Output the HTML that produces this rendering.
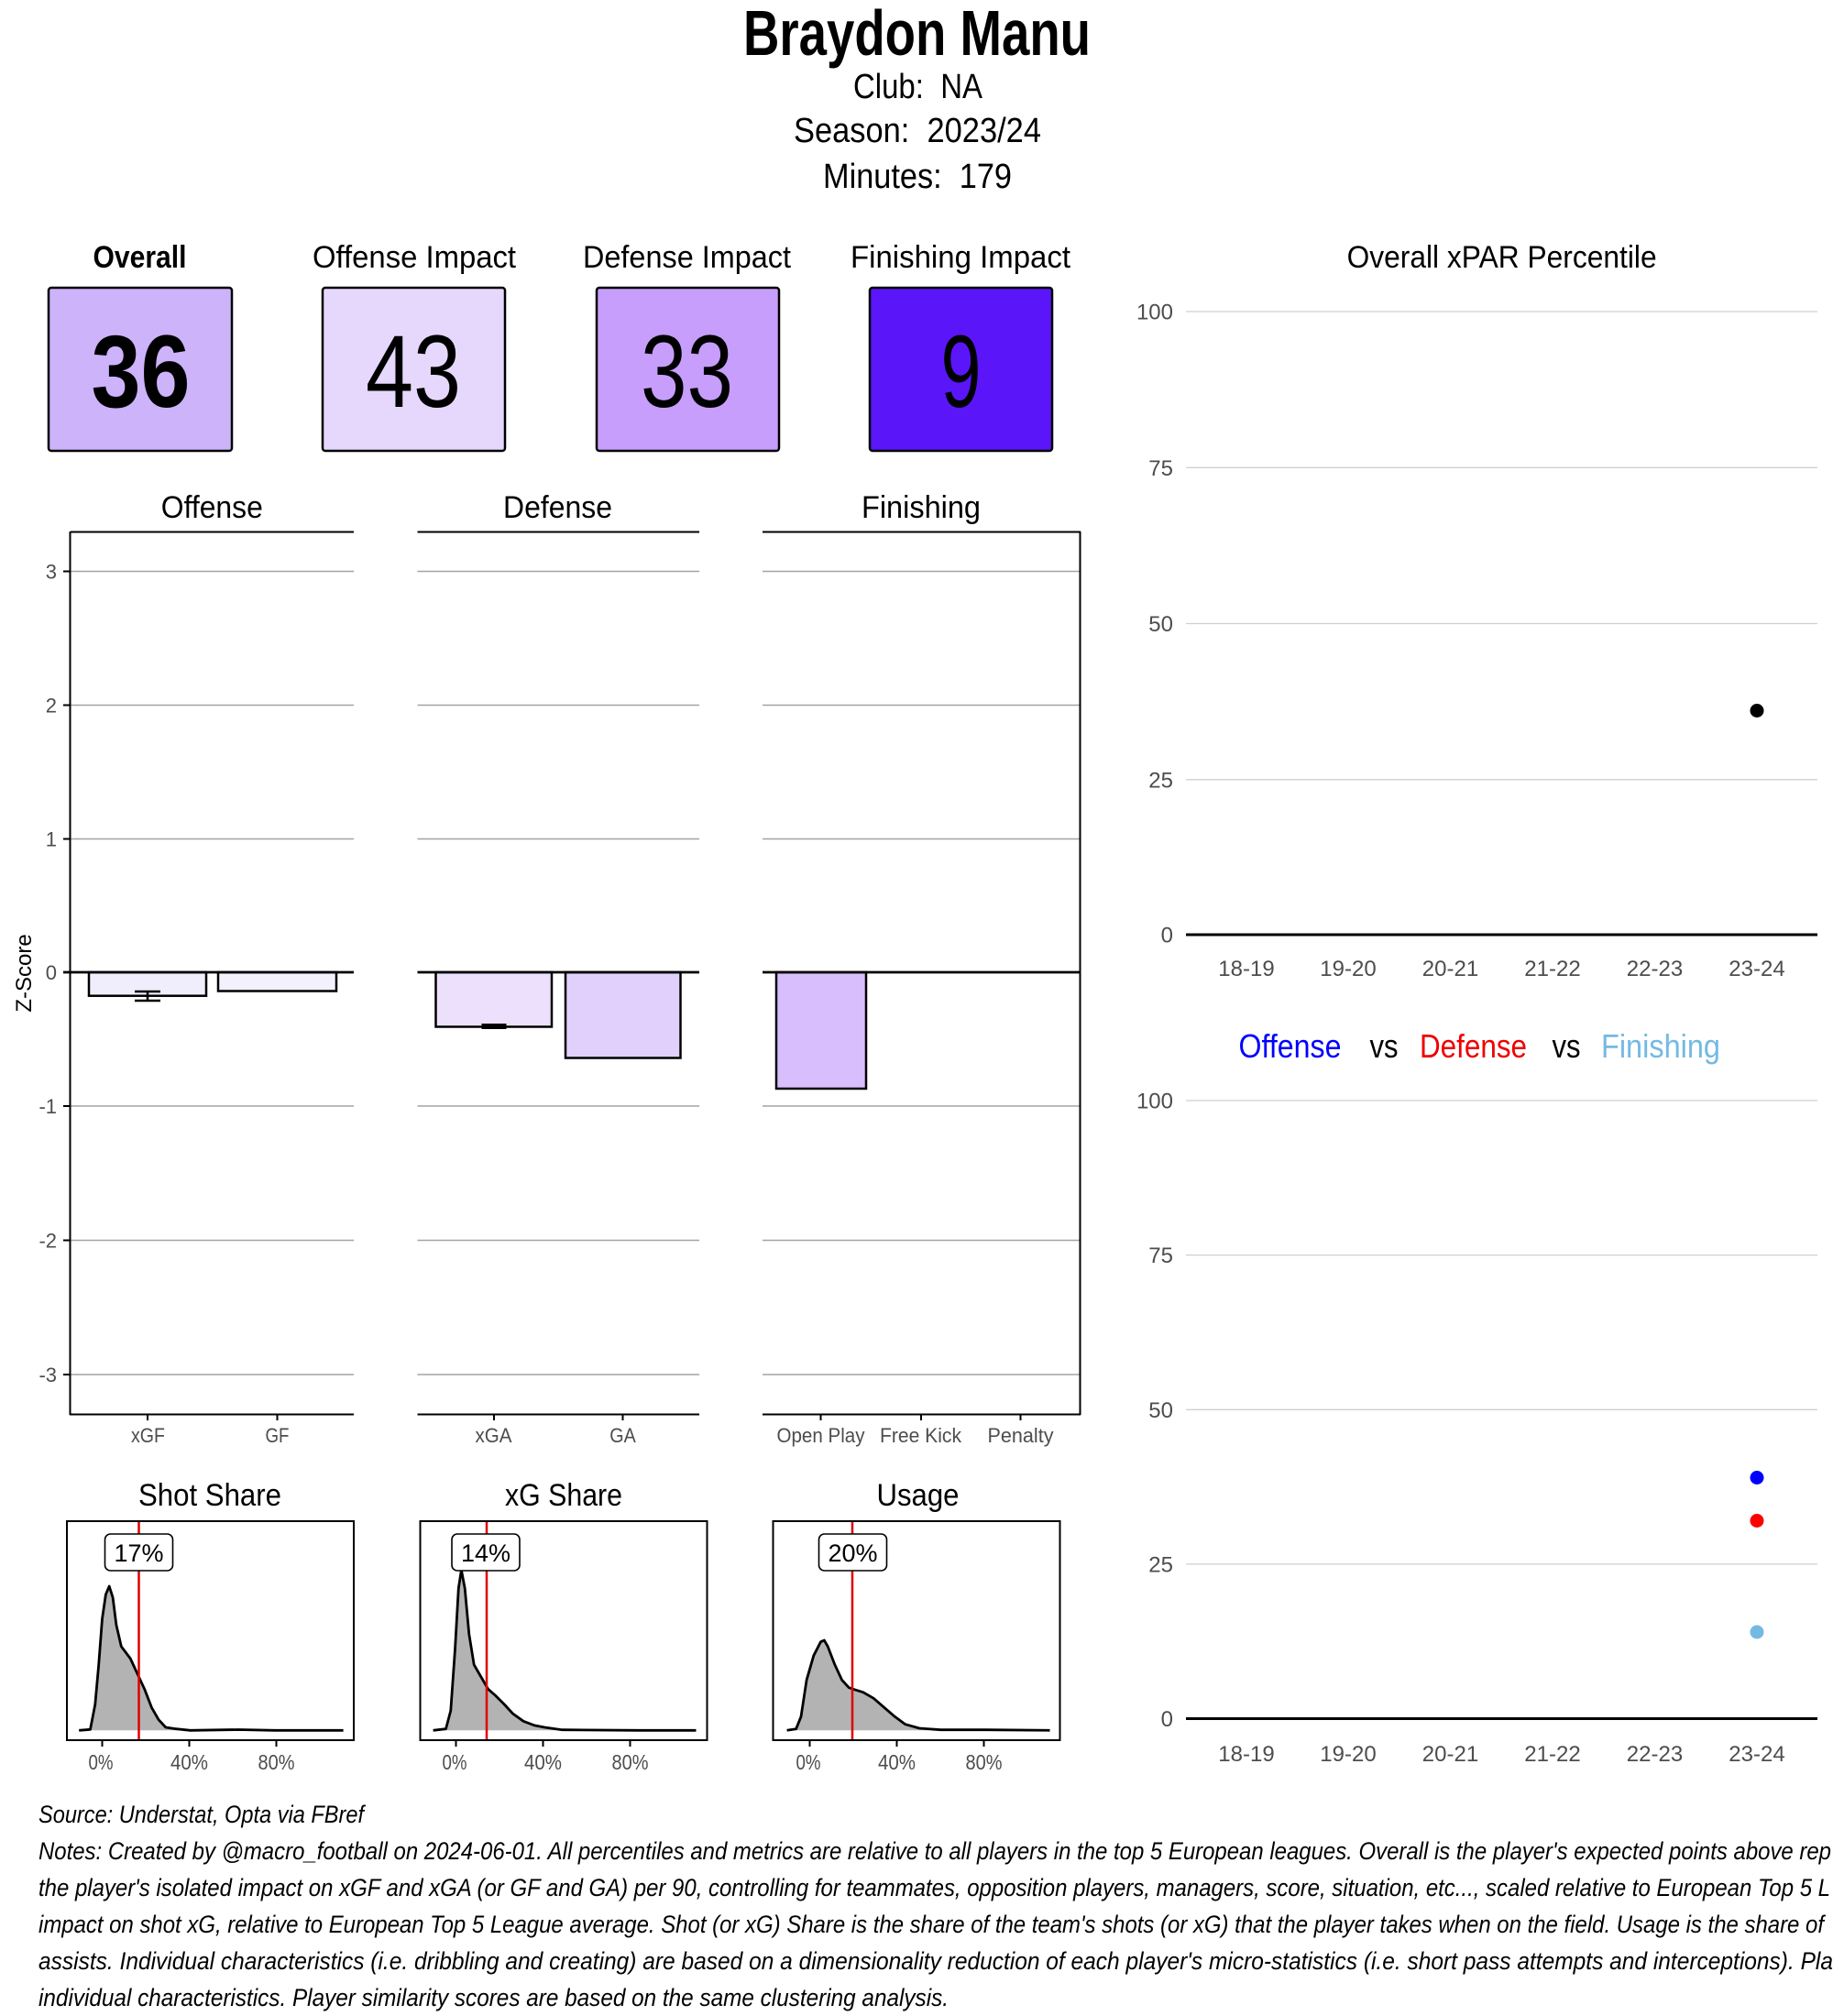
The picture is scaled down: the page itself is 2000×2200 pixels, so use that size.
<!DOCTYPE html>
<html><head><meta charset="utf-8"><style>
html,body{margin:0;padding:0;background:#fff;}
svg{display:block;}
.c{font-family:"Liberation Sans Narrow","Liberation Sans",sans-serif;}
.s{font-family:"Liberation Sans",sans-serif;}
</style></head><body>
<svg width="2000" height="2200" viewBox="0 0 2000 2200" xmlns="http://www.w3.org/2000/svg">
<rect width="2000" height="2200" fill="#fff"/>

<!-- Header -->
<g class="c" fill="#000" text-anchor="middle">
<text x="1000.5" y="60" font-size="70" font-weight="bold" textLength="379" lengthAdjust="spacingAndGlyphs">Braydon Manu</text>
<text x="1001.5" y="107" font-size="38" textLength="141" lengthAdjust="spacingAndGlyphs">Club:&#160; NA</text>
<text x="1001" y="155" font-size="38" textLength="270" lengthAdjust="spacingAndGlyphs">Season:&#160; 2023/24</text>
<text x="1001" y="205" font-size="38" textLength="206" lengthAdjust="spacingAndGlyphs">Minutes:&#160; 179</text>
</g>

<!-- Score boxes -->
<g class="c" text-anchor="middle" fill="#000">
<text x="152.5" y="292" font-size="34" font-weight="bold" textLength="102" lengthAdjust="spacingAndGlyphs">Overall</text>
<text x="452" y="292" font-size="34" textLength="222" lengthAdjust="spacingAndGlyphs">Offense Impact</text>
<text x="749.5" y="292" font-size="34" textLength="227" lengthAdjust="spacingAndGlyphs">Defense Impact</text>
<text x="1048" y="292" font-size="34" textLength="240" lengthAdjust="spacingAndGlyphs">Finishing Impact</text>
</g>
<g stroke="#000" stroke-width="2.5">
<rect x="53" y="314" width="200" height="178" rx="3" fill="#CDB3FA"/>
<rect x="352" y="314" width="199" height="178" rx="3" fill="#E6D8FC"/>
<rect x="651" y="314" width="199" height="178" rx="3" fill="#C79EFB"/>
<rect x="949" y="314" width="199" height="178" rx="3" fill="#5A16F8"/>
</g>
<g class="c" text-anchor="middle" fill="#000" font-size="112">
<text x="153.5" y="444" font-weight="bold" textLength="108" lengthAdjust="spacingAndGlyphs">36</text>
<text x="451" y="444" textLength="104" lengthAdjust="spacingAndGlyphs">43</text>
<text x="749.5" y="444" textLength="101" lengthAdjust="spacingAndGlyphs">33</text>
<text x="1048.5" y="444" textLength="44" lengthAdjust="spacingAndGlyphs">9</text>
</g>

<!-- Facet strip titles -->
<g class="c" text-anchor="middle" fill="#000" font-size="34">
<text x="231.3" y="565" textLength="111" lengthAdjust="spacingAndGlyphs">Offense</text>
<text x="608.5" y="565" textLength="119" lengthAdjust="spacingAndGlyphs">Defense</text>
<text x="1005" y="565" textLength="130" lengthAdjust="spacingAndGlyphs">Finishing</text>
</g>

<!-- Bar panels gridlines -->
<g stroke="#a3a3a3" stroke-width="1.6">
<line x1="77" y1="623.5" x2="386" y2="623.5"/><line x1="455.5" y1="623.5" x2="763" y2="623.5"/><line x1="832" y1="623.5" x2="1179" y2="623.5"/>
<line x1="77" y1="769.5" x2="386" y2="769.5"/><line x1="455.5" y1="769.5" x2="763" y2="769.5"/><line x1="832" y1="769.5" x2="1179" y2="769.5"/>
<line x1="77" y1="915.5" x2="386" y2="915.5"/><line x1="455.5" y1="915.5" x2="763" y2="915.5"/><line x1="832" y1="915.5" x2="1179" y2="915.5"/>
<line x1="77" y1="1207" x2="386" y2="1207"/><line x1="455.5" y1="1207" x2="763" y2="1207"/><line x1="832" y1="1207" x2="1179" y2="1207"/>
<line x1="77" y1="1353.5" x2="386" y2="1353.5"/><line x1="455.5" y1="1353.5" x2="763" y2="1353.5"/><line x1="832" y1="1353.5" x2="1179" y2="1353.5"/>
<line x1="77" y1="1500" x2="386" y2="1500"/><line x1="455.5" y1="1500" x2="763" y2="1500"/><line x1="832" y1="1500" x2="1179" y2="1500"/>
</g>

<!-- Bars -->
<g stroke="#000" stroke-width="2.5">
<rect x="97" y="1061" width="128" height="25.7" fill="#F0EEFC"/>
<rect x="238" y="1061" width="129" height="20.5" fill="#F3F1FB"/>
<rect x="475.5" y="1061" width="126.5" height="59.5" fill="#ECE0FC"/>
<rect x="617" y="1061" width="125.5" height="93.5" fill="#E1D0FB"/>
<rect x="847" y="1061" width="98" height="127" fill="#D8BEFC"/>
</g>
<!-- error bars -->
<g stroke="#000" stroke-width="2.5" fill="none">
<line x1="161" y1="1082" x2="161" y2="1092"/>
<line x1="147" y1="1082" x2="175" y2="1082"/>
<line x1="147" y1="1092" x2="175" y2="1092"/>
</g>
<rect x="525.5" y="1117" width="27" height="6" fill="#000"/>

<!-- zero lines -->
<g stroke="#000" stroke-width="2.8">
<line x1="69" y1="1061" x2="386" y2="1061"/>
<line x1="455.5" y1="1061" x2="763" y2="1061"/>
<line x1="832" y1="1061" x2="1179" y2="1061"/>
</g>

<!-- panel borders / axes -->
<g stroke="#000" stroke-width="2" fill="none">
<line x1="77" y1="580.5" x2="386" y2="580.5"/>
<line x1="455.5" y1="580.5" x2="763" y2="580.5"/>
<line x1="832" y1="580.5" x2="1179" y2="580.5"/>
<line x1="76.5" y1="580" x2="76.5" y2="1544"/>
<line x1="1178.5" y1="580" x2="1178.5" y2="1544"/>
<line x1="76" y1="1543.5" x2="386" y2="1543.5"/>
<line x1="455.5" y1="1543.5" x2="763" y2="1543.5"/>
<line x1="832" y1="1543.5" x2="1179" y2="1543.5"/>
<!-- y ticks -->
<line x1="69" y1="623.5" x2="76" y2="623.5"/>
<line x1="69" y1="769.5" x2="76" y2="769.5"/>
<line x1="69" y1="915.5" x2="76" y2="915.5"/>
<line x1="69" y1="1207" x2="76" y2="1207"/>
<line x1="69" y1="1353.5" x2="76" y2="1353.5"/>
<line x1="69" y1="1500" x2="76" y2="1500"/>
<!-- x ticks -->
<line x1="161" y1="1543" x2="161" y2="1550"/>
<line x1="302.5" y1="1543" x2="302.5" y2="1550"/>
<line x1="539" y1="1543" x2="539" y2="1550"/>
<line x1="679.5" y1="1543" x2="679.5" y2="1550"/>
<line x1="895.5" y1="1543" x2="895.5" y2="1550"/>
<line x1="1005" y1="1543" x2="1005" y2="1550"/>
<line x1="1113.5" y1="1543" x2="1113.5" y2="1550"/>
</g>

<!-- y tick labels -->
<g class="c" fill="#4d4d4d" font-size="22" text-anchor="end">
<text x="62" y="631.5">3</text>
<text x="62" y="777.5">2</text>
<text x="62" y="923.5">1</text>
<text x="62" y="1069">0</text>
<text x="62" y="1215">-1</text>
<text x="62" y="1361.5">-2</text>
<text x="62" y="1508">-3</text>
</g>
<text class="s" x="0" y="0" font-size="24" fill="#000" text-anchor="middle" transform="translate(34,1062) rotate(-90)">Z-Score</text>

<!-- x tick labels -->
<g class="c" fill="#4d4d4d" font-size="22" text-anchor="middle">
<text x="161.5" y="1574" textLength="37" lengthAdjust="spacingAndGlyphs">xGF</text>
<text x="302.5" y="1574" textLength="26" lengthAdjust="spacingAndGlyphs">GF</text>
<text x="538.5" y="1574" textLength="40" lengthAdjust="spacingAndGlyphs">xGA</text>
<text x="679.5" y="1574" textLength="28.5" lengthAdjust="spacingAndGlyphs">GA</text>
<text x="895.5" y="1574" textLength="96" lengthAdjust="spacingAndGlyphs">Open Play</text>
<text x="1004.5" y="1574" textLength="89" lengthAdjust="spacingAndGlyphs">Free Kick</text>
<text x="1113.5" y="1574" textLength="72" lengthAdjust="spacingAndGlyphs">Penalty</text>
</g>

<!-- Density titles -->
<g class="c" text-anchor="middle" fill="#000" font-size="34">
<text x="229" y="1643" textLength="156" lengthAdjust="spacingAndGlyphs">Shot Share</text>
<text x="615" y="1643" textLength="128" lengthAdjust="spacingAndGlyphs">xG Share</text>
<text x="1001.5" y="1643" textLength="90" lengthAdjust="spacingAndGlyphs">Usage</text>
</g>

<!-- Shot Share density -->
<polygon fill="#b3b3b3" points="86.2,1888.3 98.5,1887.3 103.8,1860 107.7,1816.7 111.5,1766.7 115.4,1740 119.2,1731 123.1,1743.3 126.9,1773.3 132.3,1796.7 142.3,1810 150,1826.7 157.7,1843.3 165.4,1863.3 173.1,1876.7 180.8,1885 192.3,1886.7 207.7,1888.3 374.6,1888.3"/>
<polyline fill="none" stroke="#000" stroke-width="2.8" stroke-linejoin="round" points="86.2,1888.3 98.5,1887.3 103.8,1860 107.7,1816.7 111.5,1766.7 115.4,1740 119.2,1731 123.1,1743.3 126.9,1773.3 132.3,1796.7 142.3,1810 150,1826.7 157.7,1843.3 165.4,1863.3 173.1,1876.7 180.8,1885 192.3,1886.7 207.7,1888.3 260,1887.5 300,1888.3 374.6,1888.3"/>
<line x1="151.5" y1="1660" x2="151.5" y2="1899" stroke="#e00000" stroke-width="2.5"/>
<rect x="114.5" y="1674" width="74" height="40" rx="6" fill="#fff" stroke="#000" stroke-width="1.6"/>
<text class="c" x="151.5" y="1704" font-size="27" text-anchor="middle" textLength="54" lengthAdjust="spacingAndGlyphs">17%</text>
<rect x="73" y="1660" width="313" height="239" fill="none" stroke="#000" stroke-width="2"/>
<g stroke="#000" stroke-width="2">
<line x1="111.5" y1="1899" x2="111.5" y2="1906"/><line x1="206.5" y1="1899" x2="206.5" y2="1906"/><line x1="301.5" y1="1899" x2="301.5" y2="1906"/>
</g>
<g class="c" fill="#4d4d4d" font-size="23" text-anchor="middle">
<text x="110" y="1931" textLength="27" lengthAdjust="spacingAndGlyphs">0%</text>
<text x="206.5" y="1931" textLength="41" lengthAdjust="spacingAndGlyphs">40%</text>
<text x="301.5" y="1931" textLength="40" lengthAdjust="spacingAndGlyphs">80%</text>
</g>

<!-- xG Share density -->
<g transform="translate(-2,0)">
<polygon fill="#b3b3b3" points="474.6,1888.3 488.5,1886.7 493.8,1866.7 498.5,1800 502.3,1733.3 505.4,1713.3 509.2,1733.3 513.8,1783.3 519.2,1816.7 526.9,1830 534.6,1843.3 542.3,1850 552.3,1860 561.5,1870 573.1,1878.3 584.6,1882.7 596.2,1885 615.4,1887.7 761.5,1888.3"/>
<polyline fill="none" stroke="#000" stroke-width="2.8" stroke-linejoin="round" points="474.6,1888.3 488.5,1886.7 493.8,1866.7 498.5,1800 502.3,1733.3 505.4,1713.3 509.2,1733.3 513.8,1783.3 519.2,1816.7 526.9,1830 534.6,1843.3 542.3,1850 552.3,1860 561.5,1870 573.1,1878.3 584.6,1882.7 596.2,1885 615.4,1887.7 700,1888.3 761.5,1888.3"/>
<line x1="533" y1="1660" x2="533" y2="1899" stroke="#e00000" stroke-width="2.5"/>
<rect x="495" y="1674" width="74" height="40" rx="6" fill="#fff" stroke="#000" stroke-width="1.6"/>
<text class="c" x="532" y="1704" font-size="27" text-anchor="middle" textLength="54" lengthAdjust="spacingAndGlyphs">14%</text>
<rect x="460.5" y="1660" width="313" height="239" fill="none" stroke="#000" stroke-width="2"/>
<g stroke="#000" stroke-width="2">
<line x1="499.5" y1="1899" x2="499.5" y2="1906"/><line x1="594.5" y1="1899" x2="594.5" y2="1906"/><line x1="689.5" y1="1899" x2="689.5" y2="1906"/>
</g>
<g class="c" fill="#4d4d4d" font-size="23" text-anchor="middle">
<text x="498" y="1931" textLength="27" lengthAdjust="spacingAndGlyphs">0%</text>
<text x="594.5" y="1931" textLength="41" lengthAdjust="spacingAndGlyphs">40%</text>
<text x="689.5" y="1931" textLength="40" lengthAdjust="spacingAndGlyphs">80%</text>
</g>
</g>

<!-- Usage density -->
<g transform="translate(-4.5,0)">
<polygon fill="#b3b3b3" points="863.1,1888.3 873.1,1886.7 878.5,1873.3 884.6,1833.3 892.3,1806.7 900,1791.7 903.8,1790 907.7,1796.7 915.4,1816.7 923.1,1833.3 930.8,1841.7 938.5,1844.3 946.2,1846.7 957.7,1853.3 969.2,1863.3 980.8,1873.3 992.3,1881.7 1007.7,1886 1030.8,1887.7 1150,1888.3"/>
<polyline fill="none" stroke="#000" stroke-width="2.8" stroke-linejoin="round" points="863.1,1888.3 873.1,1886.7 878.5,1873.3 884.6,1833.3 892.3,1806.7 900,1791.7 903.8,1790 907.7,1796.7 915.4,1816.7 923.1,1833.3 930.8,1841.7 938.5,1844.3 946.2,1846.7 957.7,1853.3 969.2,1863.3 980.8,1873.3 992.3,1881.7 1007.7,1886 1030.8,1887.7 1080,1887.7 1150,1888.3"/>
<line x1="934.5" y1="1660" x2="934.5" y2="1899" stroke="#e00000" stroke-width="2.5"/>
<rect x="898" y="1674" width="74" height="40" rx="6" fill="#fff" stroke="#000" stroke-width="1.6"/>
<text class="c" x="935" y="1704" font-size="27" text-anchor="middle" textLength="54" lengthAdjust="spacingAndGlyphs">20%</text>
<rect x="848" y="1660" width="313" height="239" fill="none" stroke="#000" stroke-width="2"/>
<g stroke="#000" stroke-width="2">
<line x1="888" y1="1899" x2="888" y2="1906"/><line x1="983" y1="1899" x2="983" y2="1906"/><line x1="1078" y1="1899" x2="1078" y2="1906"/>
</g>
<g class="c" fill="#4d4d4d" font-size="23" text-anchor="middle">
<text x="886.5" y="1931" textLength="27" lengthAdjust="spacingAndGlyphs">0%</text>
<text x="983" y="1931" textLength="41" lengthAdjust="spacingAndGlyphs">40%</text>
<text x="1078" y="1931" textLength="40" lengthAdjust="spacingAndGlyphs">80%</text>
</g>
</g>

<!-- Right top: Overall xPAR Percentile -->
<text class="s" x="1638.6" y="292" font-size="34" text-anchor="middle" textLength="338" lengthAdjust="spacingAndGlyphs">Overall xPAR Percentile</text>
<g stroke="#d0d0d0" stroke-width="1.3">
<line x1="1294" y1="340" x2="1983" y2="340"/>
<line x1="1294" y1="510.3" x2="1983" y2="510.3"/>
<line x1="1294" y1="680.5" x2="1983" y2="680.5"/>
<line x1="1294" y1="850.8" x2="1983" y2="850.8"/>
</g>
<line x1="1294" y1="1020" x2="1983" y2="1020" stroke="#000" stroke-width="3"/>
<g class="s" fill="#4d4d4d" font-size="24" text-anchor="end">
<text x="1280" y="348.5">100</text>
<text x="1280" y="519">75</text>
<text x="1280" y="689">50</text>
<text x="1280" y="859.5">25</text>
<text x="1280" y="1028.5">0</text>
</g>
<g class="s" fill="#4d4d4d" font-size="24" text-anchor="middle">
<text x="1360" y="1065">18-19</text>
<text x="1471" y="1065">19-20</text>
<text x="1582.5" y="1065">20-21</text>
<text x="1694" y="1065">21-22</text>
<text x="1805.5" y="1065">22-23</text>
<text x="1917" y="1065">23-24</text>
</g>
<circle cx="1917" cy="775.5" r="7.5" fill="#000"/>

<!-- Right bottom: Offense vs Defense vs Finishing -->
<g class="s" font-size="36">
<text x="1351.5" y="1154" fill="#0000FF" textLength="112" lengthAdjust="spacingAndGlyphs">Offense</text>
<text x="1494.5" y="1154" fill="#000" textLength="31" lengthAdjust="spacingAndGlyphs">vs</text>
<text x="1549" y="1154" fill="#EE0000" textLength="117" lengthAdjust="spacingAndGlyphs">Defense</text>
<text x="1693.5" y="1154" fill="#000" textLength="31" lengthAdjust="spacingAndGlyphs">vs</text>
<text x="1747" y="1154" fill="#74B9E3" textLength="130" lengthAdjust="spacingAndGlyphs">Finishing</text>
</g>
<g stroke="#d0d0d0" stroke-width="1.3">
<line x1="1294" y1="1201" x2="1983" y2="1201"/>
<line x1="1294" y1="1369.6" x2="1983" y2="1369.6"/>
<line x1="1294" y1="1538.3" x2="1983" y2="1538.3"/>
<line x1="1294" y1="1706.9" x2="1983" y2="1706.9"/>
</g>
<line x1="1294" y1="1875.5" x2="1983" y2="1875.5" stroke="#000" stroke-width="3"/>
<g class="s" fill="#4d4d4d" font-size="24" text-anchor="end">
<text x="1280" y="1209.5">100</text>
<text x="1280" y="1378">75</text>
<text x="1280" y="1546.8">50</text>
<text x="1280" y="1715.4">25</text>
<text x="1280" y="1884">0</text>
</g>
<g class="s" fill="#4d4d4d" font-size="24" text-anchor="middle">
<text x="1360" y="1922">18-19</text>
<text x="1471" y="1922">19-20</text>
<text x="1582.5" y="1922">20-21</text>
<text x="1694" y="1922">21-22</text>
<text x="1805.5" y="1922">22-23</text>
<text x="1917" y="1922">23-24</text>
</g>
<circle cx="1917" cy="1612.5" r="7.5" fill="#0000FF"/>
<circle cx="1917" cy="1659.5" r="7.5" fill="#FF0000"/>
<circle cx="1917" cy="1781" r="7.5" fill="#74B9E3"/>

<!-- Notes -->
<g class="c" font-size="27" font-style="italic" fill="#000">
<text x="42" y="1989" textLength="355" lengthAdjust="spacingAndGlyphs">Source: Understat, Opta via FBref</text>
<text x="42" y="2029" textLength="1956" lengthAdjust="spacingAndGlyphs">Notes: Created by @macro_football on 2024-06-01. All percentiles and metrics are relative to all players in the top 5 European leagues. Overall is the player's expected points above rep</text>
<text x="42" y="2069" textLength="1955" lengthAdjust="spacingAndGlyphs">the player's isolated impact on xGF and xGA (or GF and GA) per 90, controlling for teammates, opposition players, managers, score, situation, etc..., scaled relative to European Top 5 L</text>
<text x="42" y="2109" textLength="1948" lengthAdjust="spacingAndGlyphs">impact on shot xG, relative to European Top 5 League average. Shot (or xG) Share is the share of the team's shots (or xG) that the player takes when on the field. Usage is the share of</text>
<text x="42" y="2149" textLength="1958" lengthAdjust="spacingAndGlyphs">assists. Individual characteristics (i.e. dribbling and creating) are based on a dimensionality reduction of each player's micro-statistics (i.e. short pass attempts and interceptions). Pla</text>
<text x="42" y="2189" textLength="993" lengthAdjust="spacingAndGlyphs">individual characteristics. Player similarity scores are based on the same clustering analysis.</text>
</g>
</svg>
</body></html>
